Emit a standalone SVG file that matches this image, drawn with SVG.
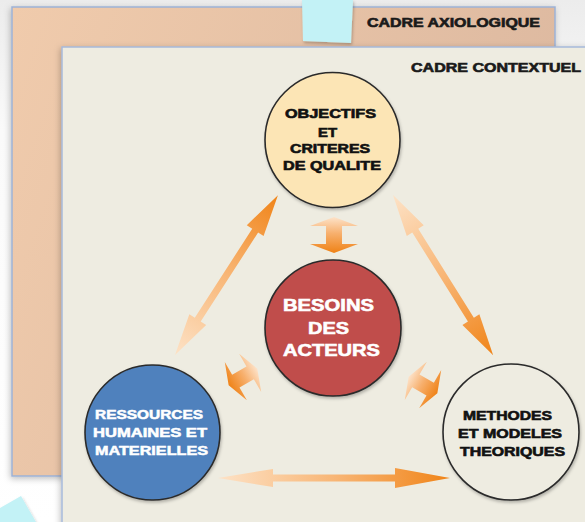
<svg xmlns="http://www.w3.org/2000/svg" width="585" height="522" viewBox="0 0 585 522">
  <defs>
    <linearGradient id="bg" x1="0" y1="0" x2="0" y2="1">
      <stop offset="0" stop-color="#ECECEC"/>
      <stop offset="0.25" stop-color="#FAFAFA"/>
      <stop offset="1" stop-color="#FFFFFF"/>
    </linearGradient>
    <linearGradient id="peach" x1="0" y1="0" x2="1" y2="0.3">
      <stop offset="0" stop-color="#F0CBAC"/>
      <stop offset="1" stop-color="#DDB9A0"/>
    </linearGradient>
    <linearGradient id="arrowGrad" x1="0" y1="0" x2="1" y2="0">
      <stop offset="0" stop-color="#FDE2C6"/>
      <stop offset="0.5" stop-color="#F8B676"/>
      <stop offset="1" stop-color="#F08418"/>
    </linearGradient>
    <linearGradient id="blockGrad" x1="0" y1="0" x2="1" y2="0">
      <stop offset="0" stop-color="#FDE3CA"/>
      <stop offset="0.45" stop-color="#F7B06E"/>
      <stop offset="1" stop-color="#EF8216"/>
    </linearGradient>
    <filter id="shadow" x="-20%" y="-20%" width="140%" height="140%">
      <feDropShadow dx="-1" dy="2" stdDeviation="3" flood-color="#000" flood-opacity="0.25"/>
    </filter>
    <filter id="soft" x="-20%" y="-20%" width="140%" height="140%">
      <feDropShadow dx="1" dy="2" stdDeviation="1.5" flood-color="#000" flood-opacity="0.25"/>
    </filter>
    <path id="blockArrow" d="M-18,0 L-9,-24 L-9,-8 L9,-8 L9,-24 L18,0 L9,24 L9,8 L-9,8 L-9,24 Z"/>
  </defs>
  <style>
    .lbl { font-family: "Liberation Sans", Arial, sans-serif; font-weight: bold; text-anchor: middle; }
    .frame-title { font-size: 12.5px; fill: #1a1a1a; stroke: #1a1a1a; stroke-width: 0.6; }
    .node-dark { font-size: 12px; fill: #111; stroke: #111; stroke-width: 0.6; }
    .node-white { font-size: 12px; fill: #fff; stroke: #fff; stroke-width: 0.5; }
    .big-white { font-size: 16.5px; fill: #fff; stroke: #fff; stroke-width: 0.6; }
    .circle { stroke: #2b2b2b; stroke-width: 1.6; }
    .note { fill: #C3F2F6; }
    .arrow { fill: url(#arrowGrad); }
    .block { fill: url(#blockGrad); }
  </style>

  <rect x="0" y="0" width="585" height="522" fill="url(#bg)"/>

  <g id="frame-axiologique">
    <rect x="12" y="7" width="543" height="469" fill="url(#peach)" stroke="#9DB2D6" stroke-width="1.5" filter="url(#shadow)"/>
    <text class="lbl frame-title" x="453.5" y="26.5" textLength="173" lengthAdjust="spacingAndGlyphs">CADRE AXIOLOGIQUE</text>
  </g>

  <g id="note-top">
    <polygon class="note" points="302,0 353,0 351,43 303,41" filter="url(#soft)"/>
  </g>

  <g id="frame-contextuel">
    <rect x="62" y="47" width="540" height="490" fill="#EEECE1" stroke="#A7B9DA" stroke-width="1.5" filter="url(#shadow)"/>
    <text class="lbl frame-title" x="496" y="72" textLength="170" lengthAdjust="spacingAndGlyphs">CADRE CONTEXTUEL</text>
  </g>

  <g id="note-bottom">
    <polygon class="note" points="0,508 21,496 36,522 0,522" filter="url(#soft)"/>
  </g>

  <g id="connectors">
    <path class="arrow" transform="translate(175,355) rotate(-57.2)" d="M0,0 L42,-10 L42,-3.5 L148,-3.5 L148,-10 L190,0 L148,10 L148,3.5 L42,3.5 L42,10 Z"/>
    <path class="arrow" transform="translate(393,195) rotate(58)" d="M0,0 L42,-10 L42,-3.5 L147,-3.5 L147,-10 L189,0 L147,10 L147,3.5 L42,3.5 L42,10 Z"/>
    <path class="arrow" transform="translate(218,478)" d="M0,0 L55,-9 L55,-3.5 L177,-3.5 L177,-10 L232,0 L177,10 L177,3.5 L55,3.5 L55,9 Z"/>
    <use href="#blockArrow" class="block" transform="translate(334,235) rotate(90)"/>
    <use href="#blockArrow" class="block" transform="translate(243,377) rotate(150) scale(0.92)"/>
    <use href="#blockArrow" class="block" transform="translate(423,385) rotate(30) scale(0.92)"/>
  </g>

  <g id="node-objectifs">
    <circle class="circle" cx="332.5" cy="140" r="67.5" fill="#FCE5B5" filter="url(#soft)"/>
    <text class="lbl node-dark" x="330.5" y="117.5" textLength="91" lengthAdjust="spacingAndGlyphs">OBJECTIFS</text>
    <text class="lbl node-dark" x="327.5" y="136.5" textLength="19" lengthAdjust="spacingAndGlyphs">ET</text>
    <text class="lbl node-dark" x="330" y="153" textLength="80" lengthAdjust="spacingAndGlyphs">CRITERES</text>
    <text class="lbl node-dark" x="332" y="170" textLength="98" lengthAdjust="spacingAndGlyphs">DE QUALITE</text>
  </g>

  <g id="node-besoins">
    <circle class="circle" cx="333" cy="328" r="68" fill="#C04D4B" filter="url(#soft)"/>
    <text class="lbl big-white" x="328.5" y="311" textLength="91" lengthAdjust="spacingAndGlyphs">BESOINS</text>
    <text class="lbl big-white" x="328.5" y="334" textLength="41" lengthAdjust="spacingAndGlyphs">DES</text>
    <text class="lbl big-white" x="331.5" y="356" textLength="97" lengthAdjust="spacingAndGlyphs">ACTEURS</text>
  </g>

  <g id="node-ressources">
    <circle class="circle" cx="152.5" cy="432.5" r="67.5" fill="#4F81BD" filter="url(#soft)"/>
    <text class="lbl node-white" x="149" y="419" textLength="108" lengthAdjust="spacingAndGlyphs">RESSOURCES</text>
    <text class="lbl node-white" x="150" y="437" textLength="114" lengthAdjust="spacingAndGlyphs">HUMAINES ET</text>
    <text class="lbl node-white" x="151.5" y="455" textLength="113" lengthAdjust="spacingAndGlyphs">MATERIELLES</text>
  </g>

  <g id="node-methodes">
    <circle class="circle" cx="511" cy="432" r="68" fill="#EEECE1" filter="url(#soft)"/>
    <text class="lbl node-dark" x="507.5" y="420" textLength="89" lengthAdjust="spacingAndGlyphs">METHODES</text>
    <text class="lbl node-dark" x="510" y="438" textLength="104" lengthAdjust="spacingAndGlyphs">ET MODELES</text>
    <text class="lbl node-dark" x="512.5" y="456" textLength="105" lengthAdjust="spacingAndGlyphs">THEORIQUES</text>
  </g>
</svg>
